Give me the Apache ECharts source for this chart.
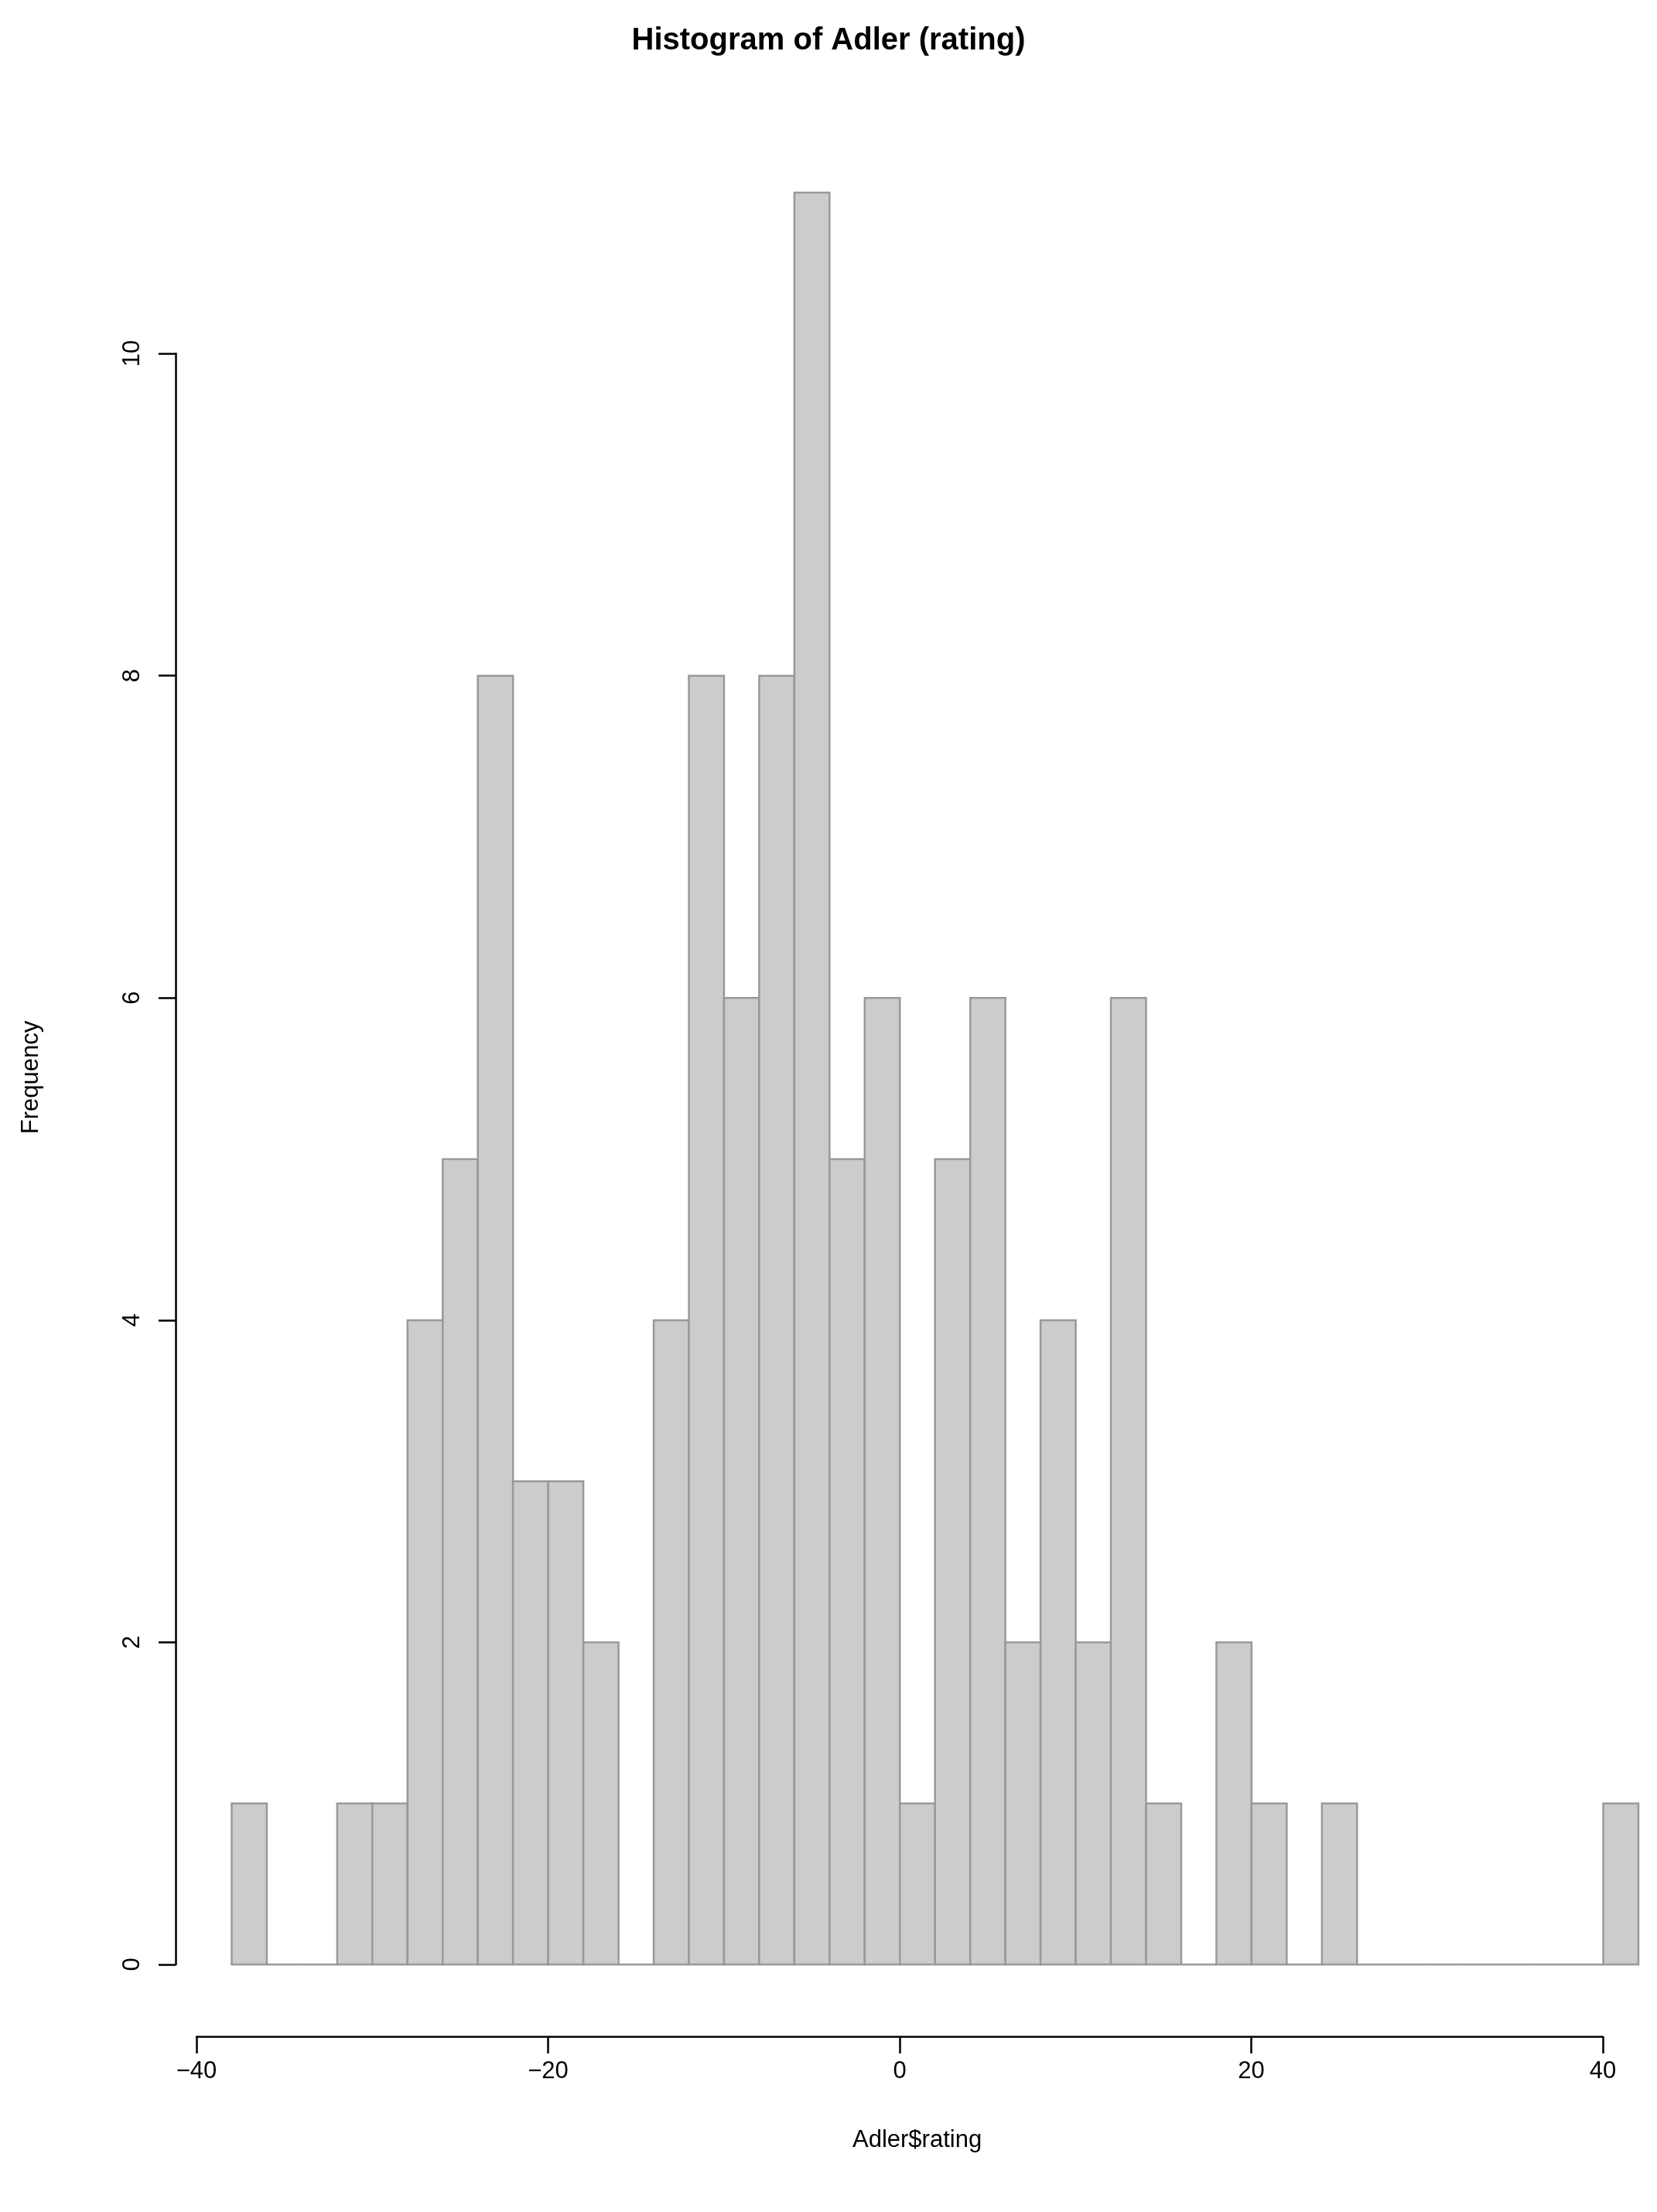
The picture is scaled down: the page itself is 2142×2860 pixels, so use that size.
<!DOCTYPE html>
<html><head><meta charset="utf-8">
<script src="https://cdn.jsdelivr.net/npm/echarts@6/dist/echarts.min.js"></script>
<style>html,body{margin:0;padding:0;background:#fff}#c{width:2142px;height:2860px}</style>
</head><body><div id="c"></div>
<script>
const binStarts = [-38,-36,-34,-32,-30,-28,-26,-24,-22,-20,-18,-16,-14,-12,-10,-8,-6,-4,-2,0,2,4,6,8,10,12,14,16,18,20,22,24,26,28,30,32,34,36,38,40];
const counts    = [1,0,0,1,1,4,5,8,3,3,2,0,4,8,6,8,11,5,6,1,5,6,2,4,2,6,1,0,2,1,0,1,0,0,0,0,0,0,0,1];
const binWidth = 2;
const xTicks = [-40,-20,0,20,40];
const yTicks = [0,2,4,6,8,10];

const data = binStarts.map((s,i)=>[s, s+binWidth, counts[i]]);
const font = 'Liberation Sans, Arial, sans-serif';
const chart = echarts.init(document.getElementById('c'));
chart.setOption({
  animation:false,
  backgroundColor:'#fff',
  title:{text:'Histogram of Adler (rating)',left:'center',top:28,textStyle:{fontFamily:font,fontSize:40,fontWeight:'bold',color:'#000'}},
  graphic:[
    {type:'text',left:1207-105,top:2752,style:{text:'Adler$rating',font:'31px '+font,fill:'#000'}},
    {type:'text',x:40,y:1393,rotation:Math.PI/2,style:{text:'Frequency',font:'31px '+font,fill:'#000',align:'center',verticalAlign:'middle'}}
  ],
  grid:[
    {left:254,width:1864,top:249,height:2291},
    {left:254,width:1818,top:249,height:2384},
    {left:227,width:1,top:457,height:2083}
  ],
  xAxis:[
    {gridIndex:0,type:'value',min:-40,max:42,show:false},
    {gridIndex:1,type:'value',min:xTicks[0],max:xTicks[xTicks.length-1],interval:20,
     axisLine:{lineStyle:{color:'#000',width:2.5}},axisTick:{length:22,lineStyle:{color:'#000',width:2.5}},
     splitLine:{show:false},axisLabel:{fontFamily:font,fontSize:31,color:'#000',margin:30,formatter:v=>String(v).replace('-','\u2212')}},
    {gridIndex:2,type:'value',show:false}
  ],
  yAxis:[
    {gridIndex:0,type:'value',min:0,max:11,show:false},
    {gridIndex:1,type:'value',show:false},
    {gridIndex:2,type:'value',min:yTicks[0],max:yTicks[yTicks.length-1],interval:2,position:'left',
     axisLine:{show:true,lineStyle:{color:'#000',width:2.5}},axisTick:{show:true,length:22,lineStyle:{color:'#000',width:2.5}},
     splitLine:{show:false},axisLabel:{fontFamily:font,fontSize:31,color:'#000',rotate:90,margin:40}}
  ],
  series:[{
    type:'custom',xAxisIndex:0,yAxisIndex:0,data:data,
    renderItem:(params,api)=>{
      const p0=api.coord([api.value(0),api.value(2)]);
      const p1=api.coord([api.value(1),0]);
      return {type:'rect',shape:{x:p0[0],y:p0[1],width:p1[0]-p0[0],height:p1[1]-p0[1]},
        style:{fill:'#cccccc',stroke:'#999999',lineWidth:2.5}};
    }
  }]
});
</script></body></html>
